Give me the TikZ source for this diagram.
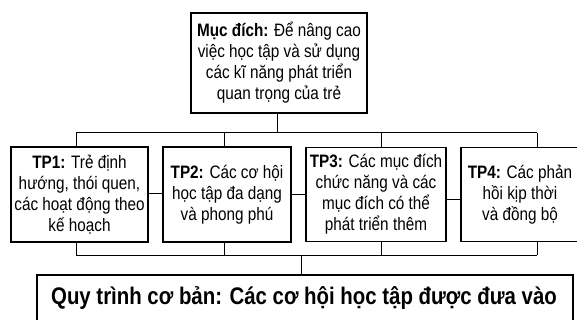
\documentclass[tikz,border=0pt]{standalone}
\usepackage{fontspec}
\setmainfont{Liberation Sans}
\newfontfamily\nf[FakeStretch=0.85]{Liberation Sans}
\begin{document}
\begin{tikzpicture}[x=1pt,y=-1pt]
\tikzset{
  box/.style={draw=black, line width=1.3pt, fill=white, inner sep=0pt},
  txt/.style={align=center, font=\nf\fontsize{18}{21}\selectfont, inner sep=0pt},
  big/.style={align=center, font=\nf\bfseries\fontsize{24}{28}\selectfont, inner sep=0pt},
  link/.style={draw=black, line width=1pt}
}
\useasboundingbox (0,0) rectangle (577,320);
\fill[white] (0,0) rectangle (577,320);

\node[box, minimum width=176pt, minimum height=100pt] (top) at (279,63) {};
\node[txt] (toptxt) at (top.center) {\textbf{Mục đích:} Để nâng cao\\việc học tập và sử dụng\\các kĩ năng phát triển\\quan trọng của trẻ};

\node[box, minimum width=137pt, minimum height=95pt] (tp1) at (79.5,194.5) {};
\node[txt] (tp1txt) at (tp1.center) {\textbf{TP1:} Trẻ định\\hướng, thói quen,\\các hoạt động theo\\kế hoạch};

\node[box, minimum width=128pt, minimum height=95pt] (tp2) at (227,194.5) {};
\node[txt] (tp2txt) at (tp2.center) {\textbf{TP2:} Các cơ hội\\học tập đa dạng\\và phong phú};

\node[box, minimum width=140pt, minimum height=94pt] (tp3) at (376,194.5) {};
\node[txt] (tp3txt) at (tp3.center) {\textbf{TP3:} Các mục đích\\chức năng và các\\mục đích có thể\\phát triển thêm};

\node[box, minimum width=118pt, minimum height=94pt] (tp4) at (520,194.5) {};
\node[txt] (tp4txt) at (tp4.center) {\textbf{TP4:} Các phản\\hồi kịp thời\\và đồng bộ};

\node[box, minimum width=536pt, minimum height=70pt] (bot) at (305,310) {};
\node[big] (bottxt) at (304,298) {Quy trình cơ bản: Các cơ hội học tập được đưa vào};

% top bus
\coordinate (tc) at (277,133);
\coordinate (ta) at (76,133);
\coordinate (tb) at (224,133);
\coordinate (td) at (381,133);
\coordinate (te) at (537,133);
\draw[link] (tc |- top.south) -- (tc);
\draw[link] (ta) -- (te);
\draw[link] (ta) -- (ta |- tp1.north);
\draw[link] (tb) -- (tb |- tp2.north);
\draw[link] (td) -- (td |- tp3.north);
\draw[link] (te) -- (te |- tp4.north);

% side links
\draw[link] (tp1.east |- 0,194) -- (tp2.west |- 0,194);
\draw[link] (tp2.east |- 0,195) -- (tp3.west |- 0,195);
\draw[link] (tp3.east |- 0,199) -- (tp4.west |- 0,199);

% bottom bus
\coordinate (ba) at (76,255);
\coordinate (bb) at (224,255);
\coordinate (bc) at (301,255);
\coordinate (bd) at (381,255);
\coordinate (be) at (537,255);
\draw[link] (ba) -- (be);
\draw[link] (ba |- tp1.south) -- (ba);
\draw[link] (bb |- tp2.south) -- (bb);
\draw[link] (bd |- tp3.south) -- (bd);
\draw[link] (be |- tp4.south) -- (be);
\draw[link] (bc) -- (bc |- bot.north);
\end{tikzpicture}
\end{document}
